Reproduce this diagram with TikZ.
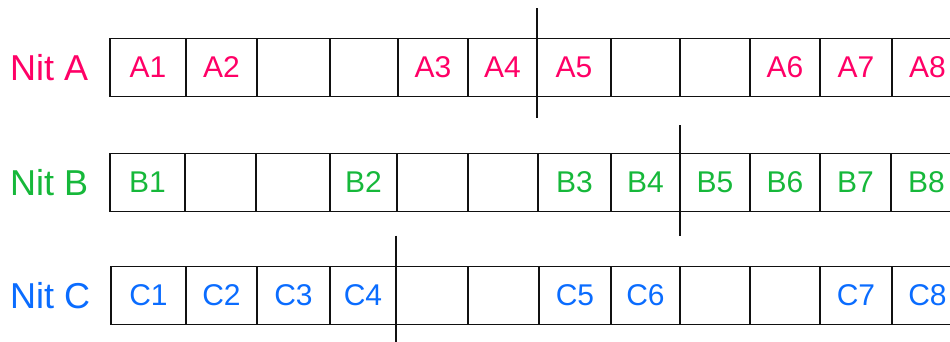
\documentclass[tikz,border=0pt]{standalone}
\usepackage{fontspec}
\setmainfont{Liberation Sans}
\usepackage{tikz}
\usetikzlibrary{positioning,calc}
\definecolor{nitA}{HTML}{FF0066}
\definecolor{nitB}{HTML}{16B83A}
\definecolor{nitC}{HTML}{0A6CFF}
\definecolor{ink}{HTML}{111111}
\tikzset{
  % --- nodes
  cell/.style = {draw=ink, line width=1.4pt, minimum height=58pt, inner sep=0pt,
                 outer sep=0pt, font=\fontsize{30}{30}\selectfont},
  nit/.style  = {anchor=west, inner sep=0pt, font=\fontsize{36}{36}\selectfont},
  % --- edges
  cut/.style  = {draw=ink, line width=1.6pt},
}
\begin{document}
\begin{tikzpicture}[x=1pt, y=-1pt]
  \useasboundingbox (0,0) rectangle (950,342);
  \clip (0,0) rectangle (950,342);

  % row A
  \node[nit, text=nitA] (nA) at (10,67.5) {Nit A};
  \foreach \l/\r/\t [count=\i] in {110/186/A1,186/257/A2,257/330/{},330/398/{},
      398/468/A3,468/537/A4,537/611/A5,611/680/{},680/750/{},750/820/A6,
      820/892/A7,892/963/A8}
    \node[cell, text=nitA, minimum width=\r-\l] (a\i) at ({(\l+\r)/2},67.5) {\t};

  % row B
  \node[nit, text=nitB] (nB) at (10,182.5) {Nit B};
  \foreach \l/\r/\t [count=\i] in {110/185/B1,185/256/{},256/330/{},330/397/B2,
      397/468/{},468/538/{},538/611/B3,611/680/B4,680/750/B5,750/820/B6,
      820/891/B7,891/962/B8}
    \node[cell, text=nitB, minimum width=\r-\l] (b\i) at ({(\l+\r)/2},182.5) {\t};

  % row C
  \node[nit, text=nitC] (nC) at (10,295.5) {Nit C};
  \foreach \l/\r/\t [count=\i] in {111/186/C1,186/257/C2,257/330/C3,330/396/C4,
      396/468/{},468/539/{},539/611/C5,611/680/C6,680/750/{},750/820/{},
      820/892/C7,892/963/C8}
    \node[cell, text=nitC, minimum width=\r-\l] (c\i) at ({(\l+\r)/2},295.5) {\t};

  % cut lines
  \draw[cut] ($(a6.north east)+(0,-30)$) -- ($(a6.south east)+(0,22)$);
  \draw[cut] ($(b8.north east)+(0,-28)$) -- ($(b8.south east)+(0,24)$);
  \draw[cut] ($(c4.north east)+(0,-31)$) -- ($(c4.south east)+(0,30)$);
\end{tikzpicture}
\end{document}
